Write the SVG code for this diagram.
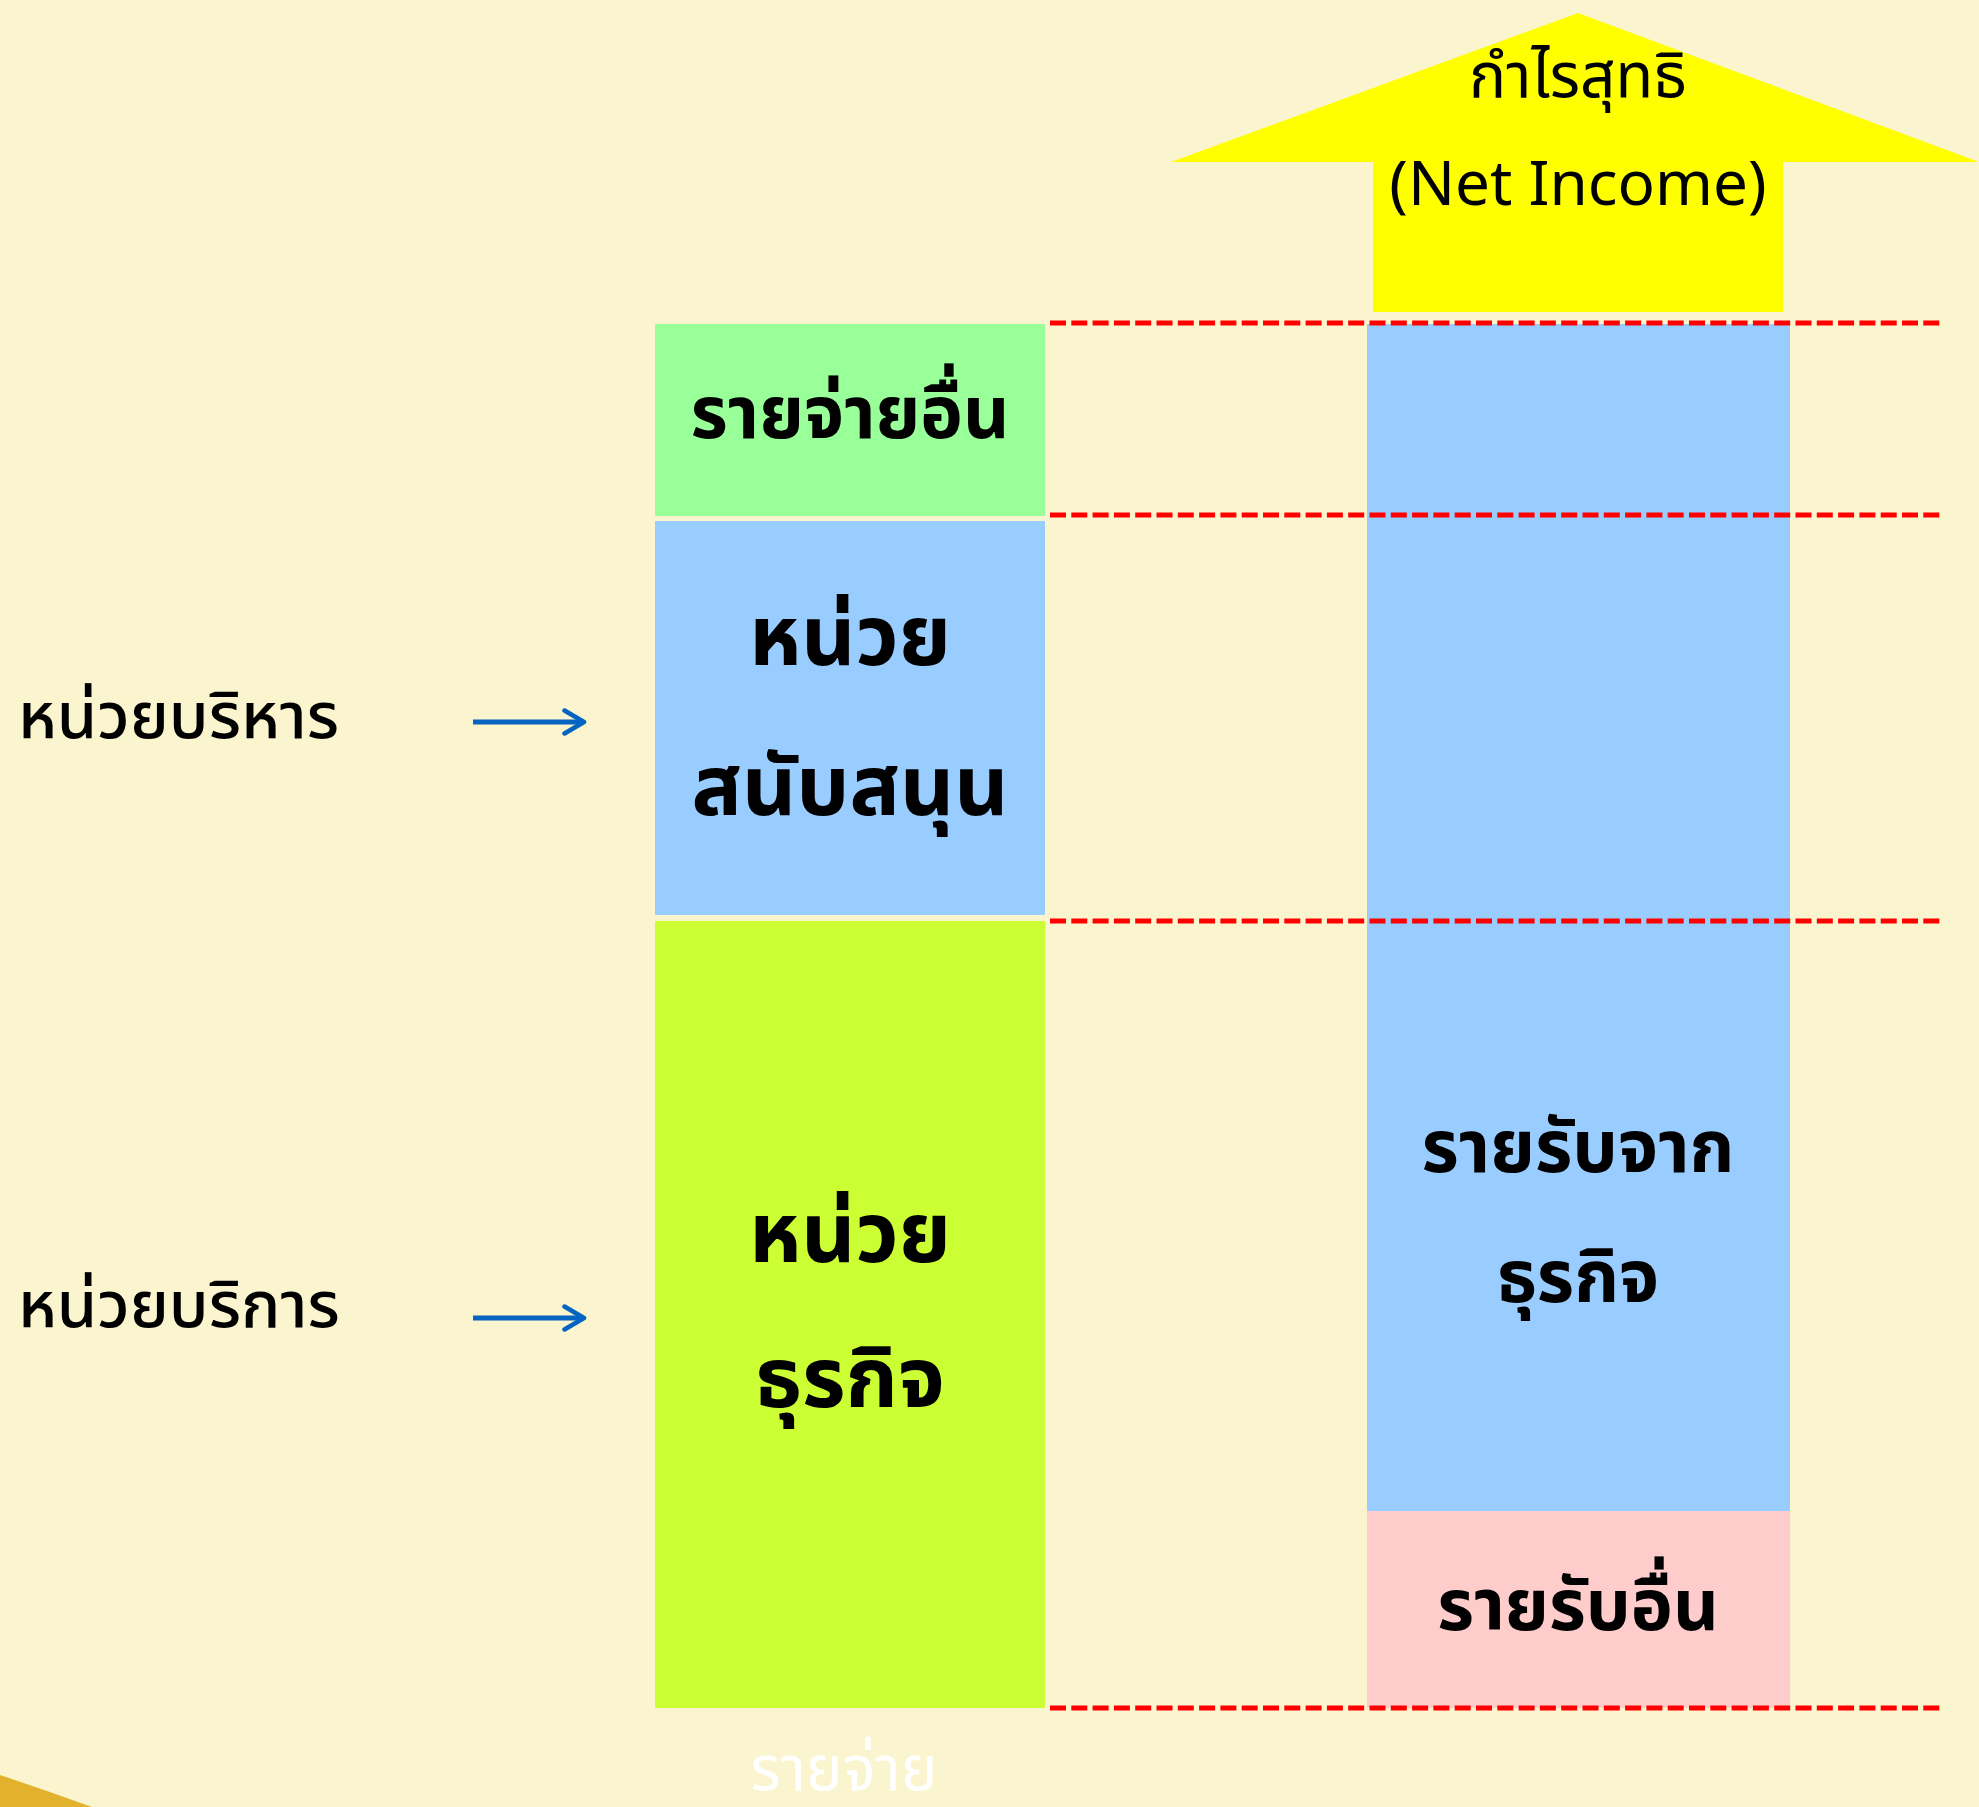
<svg xmlns="http://www.w3.org/2000/svg" width="1979" height="1807" viewBox="0 0 1979 1807">
<style>
.t{font-family:"Noto Sans","Noto Sans Thai","DejaVu Sans",sans-serif;fill:#000;text-anchor:middle}
.b{font-weight:bold}
.lbl{font-family:"Noto Sans","Noto Sans Thai","DejaVu Sans",sans-serif;fill:#000;font-size:65px;font-weight:500}
.dash{stroke:#FF0000;stroke-width:5;stroke-dasharray:16 5.3;fill:none}
.arr{stroke:#0563C1;stroke-width:5;fill:none;marker-end:url(#ah)}
</style>
<defs>
<marker id="ah" viewBox="0 0 12 12" refX="10" refY="6" markerWidth="5.5" markerHeight="5.5" orient="auto" markerUnits="strokeWidth">
<path d="M1.5,1 L10,6 L1.5,11" fill="none" stroke="#0563C1" stroke-width="2" stroke-linecap="round" stroke-linejoin="round"/>
</marker>
</defs>
<rect width="1979" height="1807" fill="#FAF5CE"/>
<path d="M0,1775 Q45,1790 92,1807 L0,1807 Z" fill="#E2B22C"/>
<g id="net-income">
<path d="M1578,13 L1979,162 L1783,162 L1783,312 L1373,312 L1373,162 L1171,162 Z" fill="#FFFF00"/>
<text class="t" x="1578" y="97" font-size="62">กำไรสุทธิ</text>
<text class="t" x="1578" y="205" font-size="62">(Net Income)</text>
</g>
<g id="other-expense">
<rect x="655" y="324" width="390" height="192" fill="#99FF99"/>
<text class="t b" x="850" y="438" font-size="72">รายจ่ายอื่น</text>
</g>
<g id="support-unit">
<rect x="655" y="521" width="390" height="394" fill="#99CCFF"/>
<text class="t b" x="850" y="665" font-size="84">หน่วย</text>
<text class="t b" x="850" y="815" font-size="84">สนับสนุน</text>
</g>
<g id="business-unit">
<rect x="655" y="921" width="390" height="787" fill="#CCFF33"/>
<text class="t b" x="850" y="1262" font-size="84">หน่วย</text>
<text class="t b" x="850" y="1407" font-size="84">ธุรกิจ</text>
</g>
<g id="business-revenue">
<rect x="1367" y="324" width="423" height="1187" fill="#99CCFF"/>
<text class="t b" x="1578" y="1172" font-size="72">รายรับจาก</text>
<text class="t b" x="1578" y="1302" font-size="72">ธุรกิจ</text>
</g>
<g id="other-revenue">
<rect x="1367" y="1511" width="423" height="197" fill="#FFCCCC"/>
<text class="t b" x="1578" y="1630" font-size="71">รายรับอื่น</text>
</g>
<g id="admin-label">
<text class="lbl" x="18" y="738">หน่วยบริหาร</text>
</g>
<g id="service-label">
<text class="lbl" x="18" y="1327">หน่วยบริการ</text>
</g>
<g id="expense-label">
<text class="t" x="844" y="1790" font-size="62" style="fill:#FFFFFF">รายจ่าย</text>
</g>
<g id="connectors">
<line class="dash" x1="1050" y1="323" x2="1942" y2="323"/>
<line class="dash" x1="1050" y1="515" x2="1942" y2="515"/>
<line class="dash" x1="1050" y1="921" x2="1942" y2="921"/>
<line class="dash" x1="1050" y1="1708" x2="1942" y2="1708"/>
<line class="arr" x1="473" y1="722" x2="584" y2="722"/>
<line class="arr" x1="473" y1="1318" x2="584" y2="1318"/>
</g>
</svg>
